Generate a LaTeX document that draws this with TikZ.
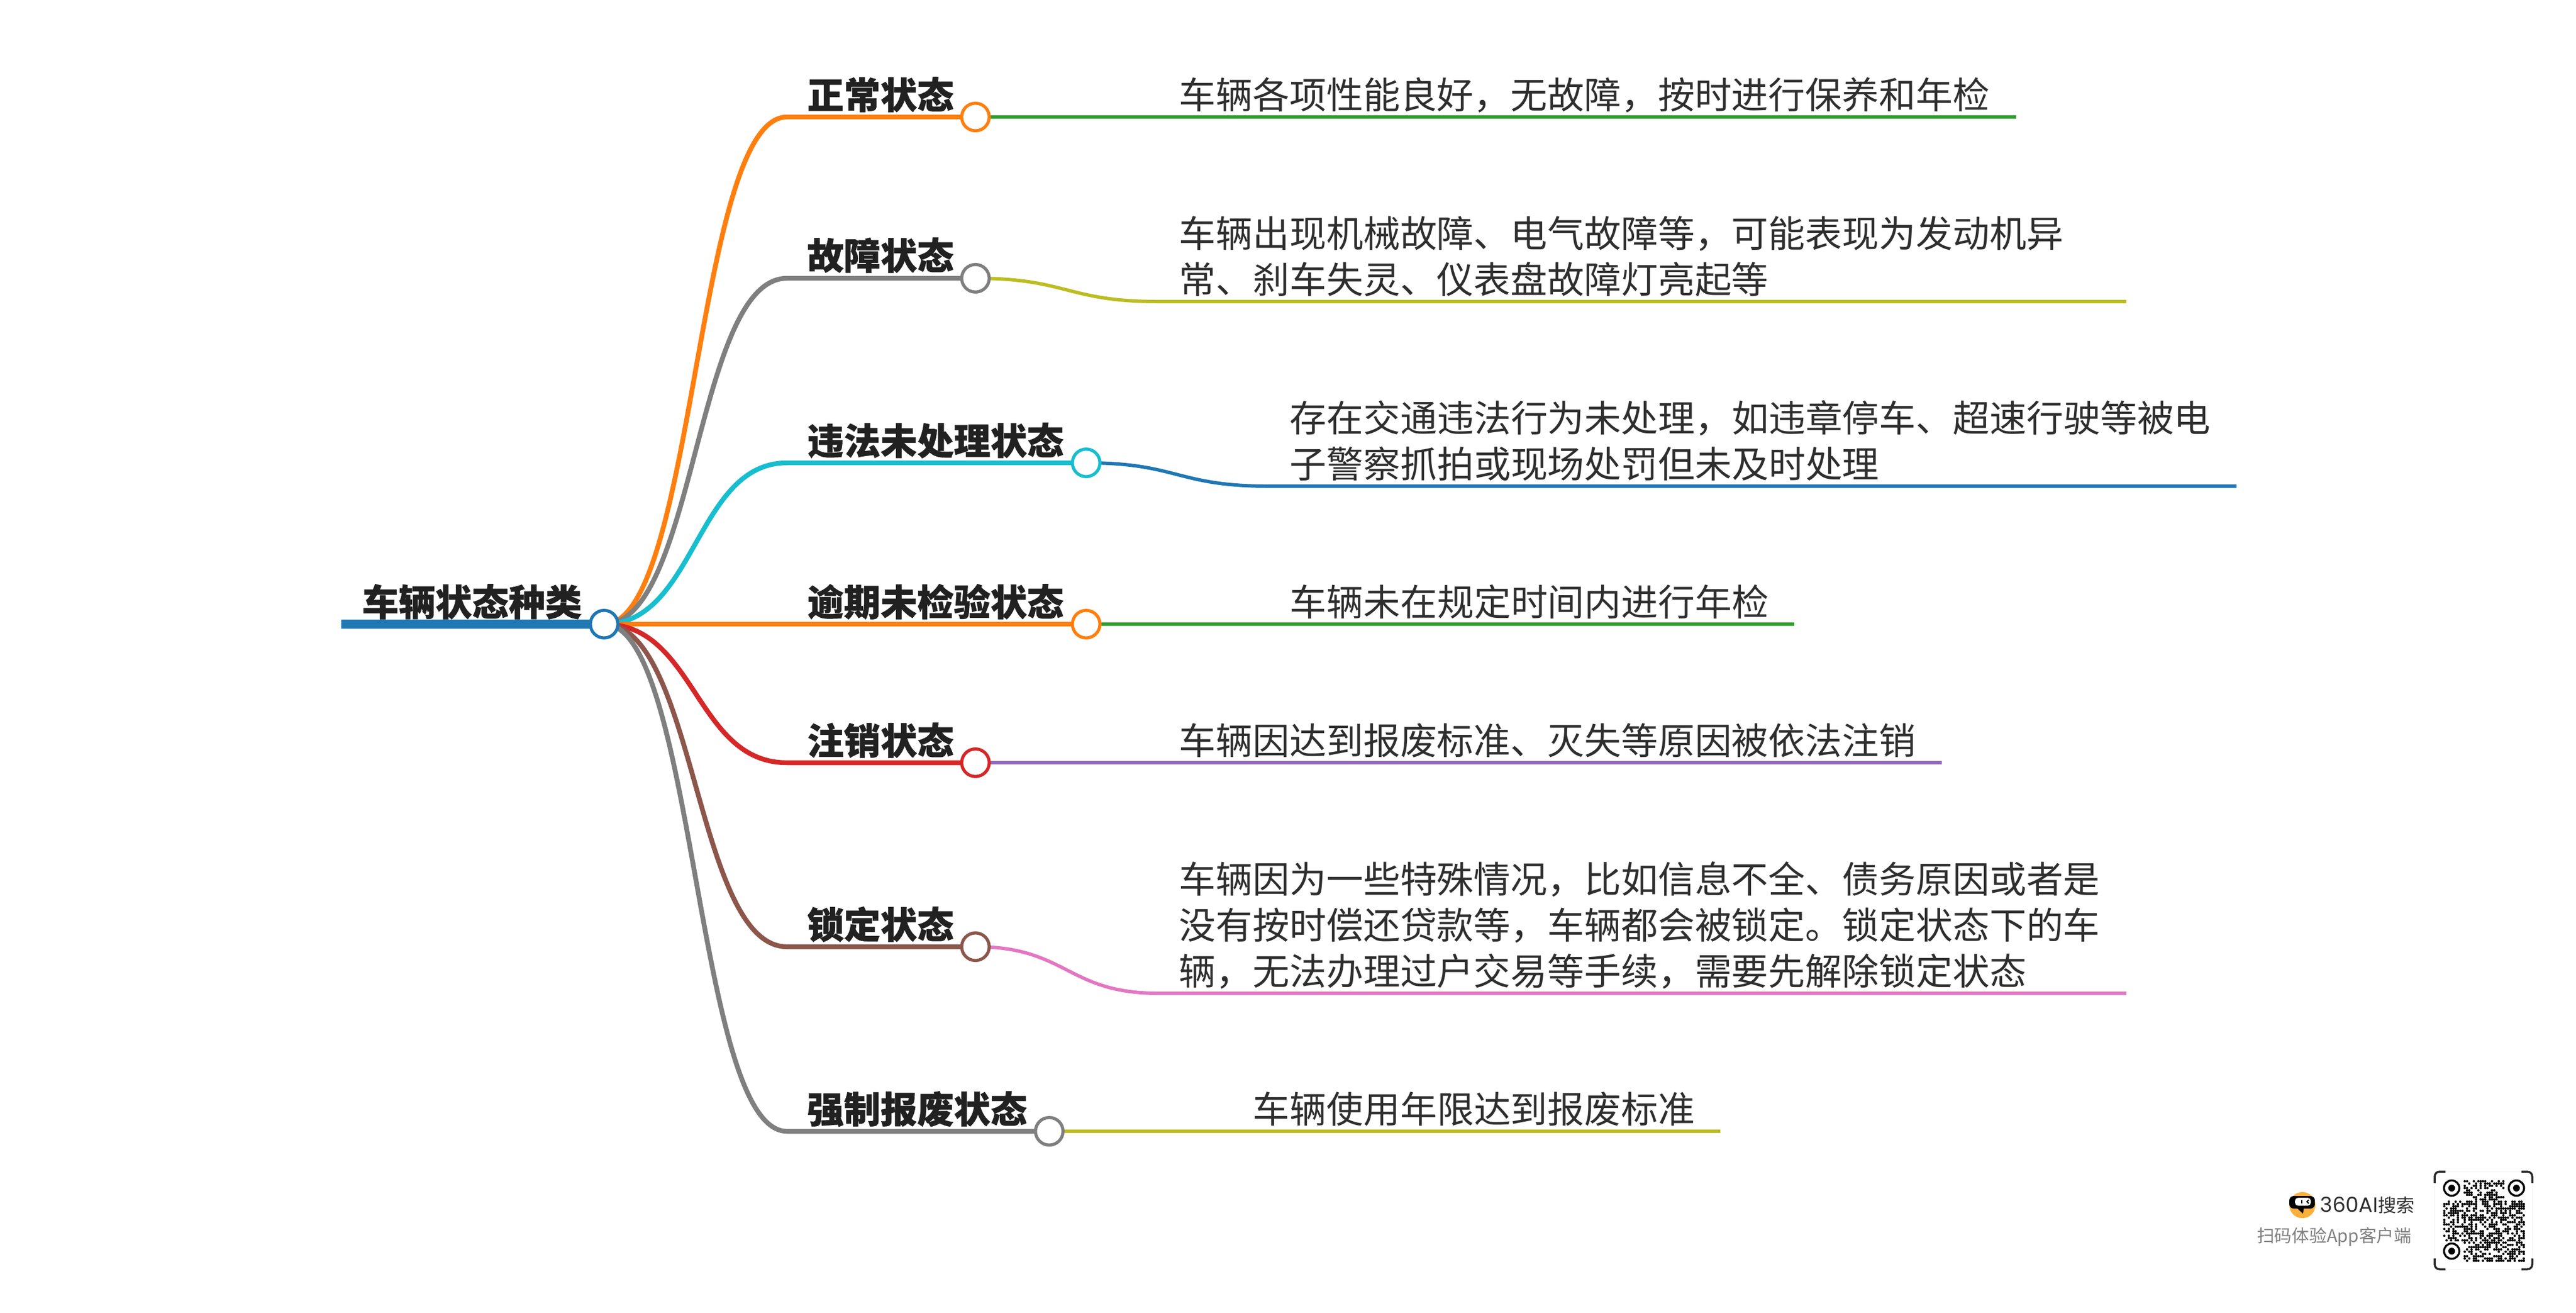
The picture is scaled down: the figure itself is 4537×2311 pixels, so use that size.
\documentclass[tikz,border=0pt]{standalone}
\usepackage{fontspec}
\setmainfont[BoldFeatures={FakeBold=0.7}]{Noto Sans CJK SC}
\newfontfamily\logofont{Poppins}
\usetikzlibrary{calc,backgrounds}
\definecolor{tabblue}{HTML}{1F77B4}
\definecolor{taborange}{HTML}{FF7F0E}
\definecolor{tabgreen}{HTML}{2CA02C}
\definecolor{tabred}{HTML}{D62728}
\definecolor{tabpurple}{HTML}{9467BD}
\definecolor{tabbrown}{HTML}{8C564B}
\definecolor{tabpink}{HTML}{E377C2}
\definecolor{tabgray}{HTML}{7F7F7F}
\definecolor{tabolive}{HTML}{BCBD22}
\definecolor{tabcyan}{HTML}{17BECF}
\definecolor{logoyellow}{HTML}{FBB03B}
\tikzset{
  x=0.01cm,y=-0.01cm,
  dotnode/.style={circle,draw=#1,fill=white,line width=1.56pt,minimum size=0.485cm,inner sep=0pt,outer sep=0pt},
  branchline/.style={line width=2.4pt},
  leafline/.style={line width=1.7pt},
  headtext/.style={anchor=south west,inner sep=0pt,text depth=0pt,text=black!87,font=\fontsize{18.35pt}{23.05pt}\selectfont\bfseries},
  bodytext/.style={anchor=south west,inner sep=0pt,text depth=0pt,align=left,text=black!82,font=\fontsize{18.45pt}{23.05pt}\selectfont},
}
% curve between two points, then a straight run to the third
\newcommand{\linkpath}[4]{
  \coordinate (mid) at ($(#2)!.5!(#3)$);
  \draw[#1] (#2) .. controls (#2 -| mid) and (#3 -| mid) .. (#3) -- (#4);
}
\begin{document}
\begin{tikzpicture}
\useasboundingbox (0,0) rectangle (4537,2311);
% dots
\node[dotnode=tabblue] (root) at (1064,1099) {};
\node[dotnode=taborange] (c1) at (1718,206) {};
\node[dotnode=tabgray] (c2) at (1718,490) {};
\node[dotnode=tabcyan] (c3) at (1913,815) {};
\node[dotnode=taborange] (c4) at (1913,1099) {};
\node[dotnode=tabred] (c5) at (1718,1343) {};
\node[dotnode=tabbrown] (c6) at (1718,1667) {};
\node[dotnode=tabgray] (c7) at (1848,1992) {};
% bends and free ends
\coordinate (start) at (601,1099);
\coordinate (b1) at (1386,206);
\coordinate (b2) at (1386,490);
\coordinate (b3) at (1386,815);
\coordinate (b4) at (1386,1099);
\coordinate (b5) at (1386,1343);
\coordinate (b6) at (1386,1667);
\coordinate (b7) at (1386,1992);
\coordinate (e1) at (3551,206);
\coordinate (f2) at (2040,531);
\coordinate (e2) at (3745,531);
\coordinate (f3) at (2233,856);
\coordinate (e3) at (3939,856);
\coordinate (e4) at (3160,1099);
\coordinate (e5) at (3420,1343);
\coordinate (f6) at (2040,1749);
\coordinate (e6) at (3745,1749);
\coordinate (e7) at (3030,1992);
\begin{pgfonlayer}{background}
\fill[white] (0,0) rectangle (4537,2311);
\linkpath{branchline,taborange}{root.center}{b1}{c1.center}
\linkpath{branchline,tabgray}{root.center}{b2}{c2.center}
\linkpath{branchline,tabcyan}{root.center}{b3}{c3.center}
\linkpath{branchline,taborange}{root.center}{b4}{c4.center}
\linkpath{branchline,tabred}{root.center}{b5}{c5.center}
\linkpath{branchline,tabbrown}{root.center}{b6}{c6.center}
\linkpath{branchline,tabgray}{root.center}{b7}{c7.center}
\draw[leafline,tabgreen] (c1.center) -- (e1);
\linkpath{leafline,tabolive}{c2.center}{f2}{e2}
\linkpath{leafline,tabblue}{c3.center}{f3}{e3}
\draw[leafline,tabgreen] (c4.center) -- (e4);
\draw[leafline,tabpurple] (c5.center) -- (e5);
\linkpath{leafline,tabpink}{c6.center}{f6}{e6}
\draw[leafline,tabolive] (c7.center) -- (e7);
\end{pgfonlayer}
% labels
\node[headtext] (roottext) at (637,1085) {车辆状态种类};
\node[headtext] (h1) at (1421,192) {正常状态};
\node[headtext] (h2) at (1421,475) {故障状态};
\node[headtext] (h3) at (1421,801) {违法未处理状态};
\node[headtext] (h4) at (1421,1085) {逾期未检验状态};
\node[headtext] (h5) at (1421,1329) {注销状态};
\node[headtext] (h6) at (1421,1653) {锁定状态};
\node[headtext] (h7) at (1421,1978) {强制报废状态};
\draw[tabblue,line width=4.55pt] (start) -- (root.west);
\node[bodytext] (t1) at (2076,192) {车辆各项性能良好，无故障，按时进行保养和年检};
\node[bodytext] (t2) at (2076,517) {车辆出现机械故障、电气故障等，可能表现为发动机异\\常、刹车失灵、仪表盘故障灯亮起等};
\node[bodytext] (t3) at (2271,842) {存在交通违法行为未处理，如违章停车、超速行驶等被电\\子警察抓拍或现场处罚但未及时处理};
\node[bodytext] (t4) at (2271,1085) {车辆未在规定时间内进行年检};
\node[bodytext] (t5) at (2076,1329) {车辆因达到报废标准、灭失等原因被依法注销};
\node[bodytext] (t6) at (2076,1735) {车辆因为一些特殊情况，比如信息不全、债务原因或者是\\没有按时偿还贷款等，车辆都会被锁定。锁定状态下的车\\辆，无法办理过户交易等手续，需要先解除锁定状态};
\node[bodytext] (t7) at (2206,1978) {车辆使用年限达到报废标准};
% logo
\fill[logoyellow] (4055,2122) circle (23);
\fill[black,rounded corners=2.2pt] (4032,2106) rectangle (4077,2128);
\fill[black] (4044,2126) -- (4056,2137) -- (4058,2126) -- cycle;
\fill[white,rounded corners=1.6pt] (4042,2109) rectangle (4070,2123);
\draw[black,line width=0.6pt] (4054,2113) -- (4054,2119);
\draw[black,line width=0.6pt] (4066,2113) -- (4063,2116) -- (4066,2119);
\node[anchor=base west,inner sep=0pt,text=black!82,font=\fontsize{9.2pt}{11pt}\selectfont] (logotext) at (4086,2134) {{\logofont\fontsize{10.4pt}{11pt}\selectfont 360AI}搜索};
\node[anchor=base east,inner sep=0pt,text=black!50,font=\fontsize{8.75pt}{11pt}\selectfont] (scantext) at (4248,2187) {扫码体验App客户端};
% code
\draw[black!6,line width=0.3pt] (4288,2063) rectangle (4460,2235);
\draw[black!85,line width=1pt,rounded corners=2.5pt] (4288,2083) -- (4288,2063) -- (4307,2063);
\draw[black!85,line width=1pt,rounded corners=2.5pt] (4441,2063) -- (4460,2063) -- (4460,2083);
\draw[black!85,line width=1pt,rounded corners=2.5pt] (4288,2216) -- (4288,2235) -- (4307,2235);
\draw[black!85,line width=1pt,rounded corners=2.5pt] (4441,2235) -- (4460,2235) -- (4460,2216);
\foreach \px/\py in {4318/2092,4432/2092,4318/2203}{
  \draw[black,line width=1pt] (\px,\py) circle (13.5);
  \fill[black] (\px,\py) circle (6);
}
\pgfmathsetseed{360}
\foreach \qi in {0,...,35}{
  \foreach \qj in {0,...,35}{
    \pgfmathrandominteger{\qbit}{0}{99}
    \ifnum\qbit<52
      \pgfmathtruncatemacro{\qskip}{(\qi<9 && \qj<9) || (\qi>26 && \qj<9) || (\qi<9 && \qj>26) ? 1 : 0}
      \ifnum\qskip=0
        \fill[black] ({4305+4*\qi},{2080+4*\qj}) circle (2.1);
      \fi
    \fi
  }
}
\end{tikzpicture}
\end{document}
